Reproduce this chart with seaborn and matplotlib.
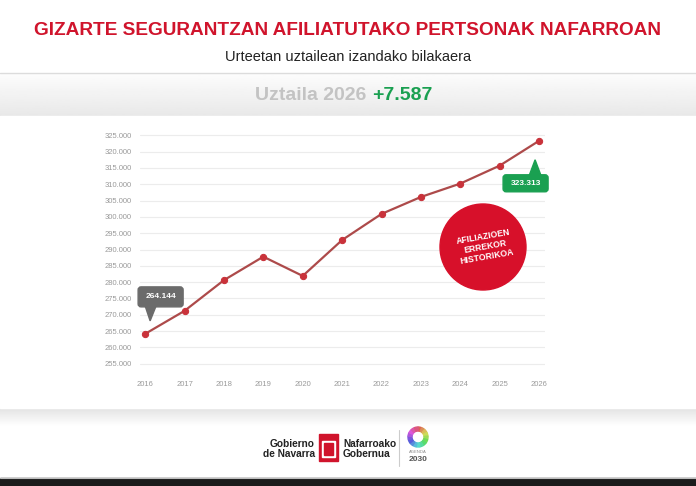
import numpy as np
import pandas as pd
import matplotlib
matplotlib.use("Agg")
import matplotlib.pyplot as plt
import matplotlib.transforms as mtrans
from matplotlib.patches import Rectangle, Polygon, FancyBboxPatch, Circle, Wedge
from matplotlib.ticker import FuncFormatter
import seaborn as sns

# --- data ---
years = [2016, 2017, 2018, 2019, 2020, 2021, 2022, 2023, 2024, 2025, 2026]
afiliados = [264144, 271200, 280600, 287800, 281900, 292900, 300900,
             306100, 310200, 315700, 323313]
y_ticks = list(range(255000, 325001, 5000))

title = "GIZARTE SEGURANTZAN AFILIATUTAKO PERTSONAK NAFARROAN"
subtitle = "Urteetan uztailean izandako bilakaera"
period_label = "Uztaila 2026"
period_change = "+7.587"
badge_text = "AFILIAZIOEN\nERREKOR\nHISTORIKOA"

W, H = 696, 486
FONT = ["Liberation Sans", "DejaVu Sans"]
RED = "#d0142c"
GREEN = "#1aa051"

sns.set_theme(style="white")
plt.rcParams["font.family"] = FONT


def fx(px):
    return px / W


def fy(py):
    # image y (from top) -> figure fraction
    return 1 - py / H


def thousands(v, _pos=None):
    return f"{int(round(v)):,}".replace(",", ".")


fig = plt.figure(figsize=(W / 100, H / 100), dpi=100)
fig.patch.set_facecolor("white")

# background bands
bg = fig.add_axes([0, 0, 1, 1], zorder=-10)
bg.set_xlim(0, W)
bg.set_ylim(H, 0)
bg.axis("off")
top_grad = np.linspace(0.99, 0.91, 64).reshape(-1, 1)
bg.imshow(top_grad, extent=[0, W, 116, 74], cmap="gray", vmin=0, vmax=1, aspect="auto")
bot_grad = np.linspace(0.89, 1.0, 64).reshape(-1, 1)
bg.imshow(bot_grad, extent=[0, W, 426, 408], cmap="gray", vmin=0, vmax=1, aspect="auto")
bg.add_patch(Rectangle((0, 116), W, 292, color="white"))
bg.plot([0, W], [73.5, 73.5], color="#dcdcdc", lw=1)
bg.add_patch(Rectangle((0, 478), W, 8, color="#1b1b1b"))
bg.plot([0, W], [477.5, 477.5], color="#bdbdbd", lw=0.8)

# header texts
fig.text(0.5, fy(30), title, ha="center", va="center", color=RED,
         fontsize=13.7, fontweight="bold")
fig.text(0.5, fy(57), subtitle, ha="center", va="center", color="#222222",
         fontsize=10.5)
fig.text(fx(372), fy(95), period_label + " ", ha="right", va="center",
         color="#c3c3c3", fontsize=14, fontweight="bold")
fig.text(fx(372), fy(95), period_change, ha="left", va="center",
         color=GREEN, fontsize=14, fontweight="bold")

# chart
x0, x1 = 140, 545
y_top, y_bot = 133, 366
ax = fig.add_axes([fx(x0), fy(y_bot), fx(x1 - x0), (y_bot - y_top) / H])
df = pd.DataFrame({"year": years, "afiliados": afiliados})
sns.lineplot(data=df, x="year", y="afiliados", ax=ax, color="#ad4a4a",
             lw=1.6, marker="o", markersize=4.5, markerfacecolor="#c9323a",
             markeredgecolor="#c9323a", zorder=5)
ax.set_xlim(2015.87, 2026.15)
ax.set_ylim(254300, 325700)
ax.set_yticks(y_ticks)
ax.set_xticks(years)
ax.yaxis.set_major_formatter(FuncFormatter(thousands))
ax.grid(axis="y", color="#ececec", lw=0.8)
ax.grid(axis="x", visible=False)
for s in ax.spines.values():
    s.set_visible(False)
ax.tick_params(axis="y", labelsize=5.5, labelcolor="#9a9a9a", length=0, pad=6)
ax.tick_params(axis="x", labelsize=5.5, labelcolor="#9a9a9a", length=0, pad=11)
ax.set_xlabel("")
ax.set_ylabel("")
ax.set_facecolor("none")


def callout(xd, yd, text, color, box, tip, base):
    # box: (dx, dy, w, h) in pixels relative to the data point, y up
    tr = fig.dpi_scale_trans + mtrans.ScaledTranslation(xd, yd, ax.transData)
    s = 1 / 100
    bx, by, bw, bh = box
    ax.add_patch(FancyBboxPatch((bx * s, by * s), bw * s, bh * s,
                                boxstyle="round,pad=0,rounding_size=0.03",
                                transform=tr, color=color, zorder=6, clip_on=False))
    ax.add_patch(Polygon([(base[0] * s, base[2] * s), (base[1] * s, base[2] * s),
                          (tip[0] * s, tip[1] * s)], closed=True, transform=tr,
                         color=color, zorder=6, clip_on=False))
    ax.text((bx + bw / 2) * s, (by + bh / 2) * s, text, transform=tr,
            ha="center", va="center", color="white", fontsize=6,
            fontweight="bold", zorder=7)


callout(years[0], afiliados[0], thousands(afiliados[0]), "#6b6b6b",
        (-7, 27, 45, 20), (5, 13), (0, 11, 28))
callout(years[-1], afiliados[-1], thousands(afiliados[-1]), GREEN,
        (-36, -51, 45, 17), (-4, -19), (-10, 2, -35))

# red badge (on top of the grid lines)
ax.add_patch(Circle((483, 247), 43, color="#d7102a", zorder=8,
                    transform=bg.transData, clip_on=False))
ax.text(485, 247, badge_text, ha="center", va="center", color="white",
        fontsize=6.2, fontweight="bold", rotation=10, linespacing=1.2,
        zorder=9, transform=bg.transData)

# footer logo
bg.text(315, 449, "Gobierno\nde Navarra", ha="right", va="center", color="#222222",
        fontsize=7.3, fontweight="bold", linespacing=1.05)
bg.add_patch(Rectangle((319, 434), 19, 27, color="#d0142c"))
bg.add_patch(Rectangle((322, 441), 13, 16, color="white"))
bg.add_patch(Rectangle((324, 443), 9, 12, color="#d0142c"))
bg.text(343, 449, "Nafarroako\nGobernua", ha="left", va="center", color="#222222",
        fontsize=7.3, fontweight="bold", linespacing=1.05)
bg.plot([399, 399], [430, 466], color="#cccccc", lw=0.8)
sdg = sns.color_palette("hls", 17)
for i, c in enumerate(sdg):
    bg.add_patch(Wedge((418, 437), 10, i * 360 / 17 - 90, (i + 1) * 360 / 17 - 90,
                       width=4, color=c))
bg.text(418, 452, "AGENDA", ha="center", va="center", fontsize=3, color="#888888")
bg.text(418, 459, "2030", ha="center", va="center", fontsize=6, color="#555555",
        fontweight="bold")

fig.savefig("out.png", dpi=100)
